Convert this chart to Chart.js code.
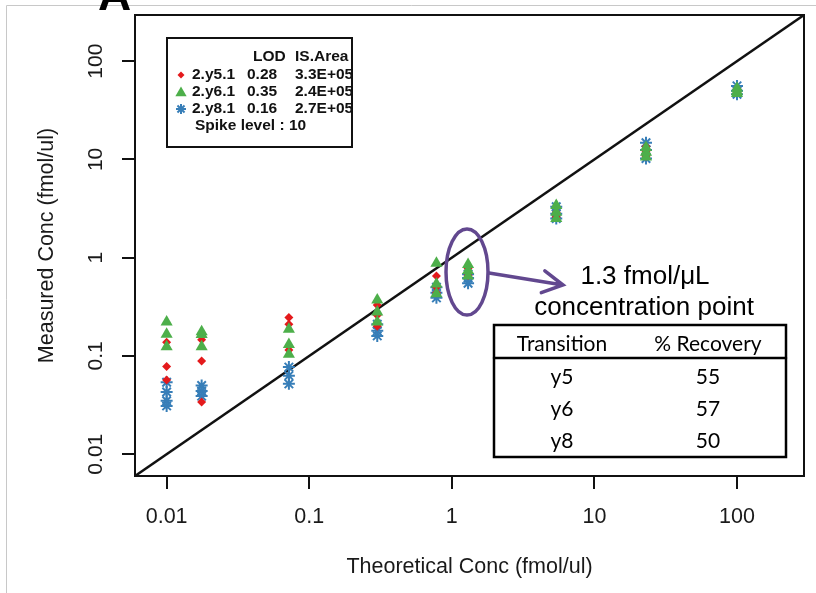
<!DOCTYPE html>
<html>
<head>
<meta charset="utf-8">
<script src="https://cdn.jsdelivr.net/npm/chart.js@4/dist/chart.umd.min.js"></script>
<style>
  html, body { margin: 0; padding: 0; background: #fff; }
  #wrap { position: relative; width: 816px; height: 593px; }
</style>
</head>
<body>
<div id="wrap"><canvas id="recoveryChart" width="816" height="593"></canvas></div>
<script>
// theoretical spike levels (fmol/ul)
const concLevels = [0.01, 0.0176, 0.072, 0.30, 0.78, 1.3, 5.4, 23, 100];

// measured replicates per level, one array per transition
const y5Measured = [
  [0.138, 0.078, 0.057],
  [0.146, 0.089, 0.034],
  [0.246, 0.21, 0.115],
  [0.33, 0.26, 0.2],
  [0.65, 0.5, 0.44],
  [0.78, 0.7, 0.66],
  [3.3, 2.9, 2.6],
  [13.5, 12, 10.8],
  [52, 50, 48]
];
const y6Measured = [
  [0.222, 0.166, 0.124],
  [0.176, 0.165, 0.124],
  [0.187, 0.131, 0.104],
  [0.37, 0.28, 0.221],
  [0.88, 0.54, 0.43],
  [0.85, 0.74, 0.65],
  [3.4, 2.9, 2.5],
  [13.2, 11.8, 10.6],
  [53, 49, 47]
];
const y8Measured = [
  [0.054, 0.043, 0.035, 0.031],
  [0.05, 0.044, 0.039],
  [0.077, 0.063, 0.052],
  [0.21, 0.18, 0.16],
  [0.5, 0.44, 0.39],
  [0.68, 0.62, 0.55],
  [3.3, 2.8, 2.5],
  [14.8, 12.5, 10.2],
  [56, 50, 46]
];

// identity line ends and axis ticks
const identityVals = [0.006, 295];
const tickVals = [0.01, 0.1, 1, 10, 100];
const tickLabels = ['0.01', '0.1', '1', '10', '100'];

// legend + inset table text
const legendNames = ['2.y5.1', '2.y6.1', '2.y8.1'];
const lodValues = ['0.28', '0.35', '0.16'];
const isAreas = ['3.3E+05', '2.4E+05', '2.7E+05'];
const spikeLevel = 10;
const transitions = ['y5', 'y6', 'y8'];
const recoveries = [55, 57, 50];

const RED = '#E41A1C', GREEN = '#4DAF4A', BLUE = '#377EB8', PURPLE = '#62488F';

function toPoints(series) {
  let pts = [];
  series.forEach((reps, i) => {
    reps.forEach(v => pts.push({ x: concLevels[i], y: v }));
  });
  return pts;
}

// small marker helpers for the legend box
function diamond(ctx, x, y, r, color) {
  ctx.fillStyle = color;
  ctx.beginPath();
  ctx.moveTo(x, y - r); ctx.lineTo(x + r, y); ctx.lineTo(x, y + r); ctx.lineTo(x - r, y);
  ctx.closePath(); ctx.fill();
}
function triangle(ctx, x, y, r, color) {
  ctx.fillStyle = color;
  ctx.beginPath();
  ctx.moveTo(x, y - r);
  ctx.lineTo(x + r * 0.866, y + r * 0.5);
  ctx.lineTo(x - r * 0.866, y + r * 0.5);
  ctx.closePath(); ctx.fill();
}
function star(ctx, x, y, r, color) {
  ctx.strokeStyle = color; ctx.lineWidth = 2;
  ctx.beginPath();
  ctx.moveTo(x - r, y); ctx.lineTo(x + r, y);
  ctx.moveTo(x, y - r); ctx.lineTo(x, y + r);
  let d = r * 0.707;
  ctx.moveTo(x - d, y - d); ctx.lineTo(x + d, y + d);
  ctx.moveTo(x - d, y + d); ctx.lineTo(x + d, y - d);
  ctx.stroke();
}

const extras = {
  id: 'extras',
  afterDraw(chart) {
    const ctx = chart.ctx;
    const area = chart.chartArea;
    const yScale = chart.scales.y;
    ctx.save();

    // screenshot frame
    ctx.strokeStyle = '#c8c8c8'; ctx.lineWidth = 1;
    ctx.beginPath();
    ctx.moveTo(6.5, 593); ctx.lineTo(6.5, 5.5); ctx.lineTo(816, 5.5);
    ctx.stroke();

    // panel letter, cut off at the top
    ctx.fillStyle = '#000';
    ctx.font = 'bold 46px "Liberation Sans", Arial, sans-serif';
    ctx.textAlign = 'left'; ctx.textBaseline = 'alphabetic';
    ctx.fillText('A', 98, 10);

    // plot box
    ctx.strokeStyle = '#111'; ctx.lineWidth = 2;
    ctx.strokeRect(area.left, area.top, area.right - area.left, area.bottom - area.top);

    // rotated y tick labels (R style)
    ctx.fillStyle = '#1a1a1a';
    ctx.font = '21px "Liberation Sans", Arial, sans-serif';
    ctx.textAlign = 'center'; ctx.textBaseline = 'middle';
    tickVals.forEach((v, i) => {
      let py = yScale.getPixelForValue(v);
      ctx.save();
      ctx.translate(96, py);
      ctx.rotate(-Math.PI / 2);
      ctx.fillText(tickLabels[i], 0, 0);
      ctx.restore();
    });

    // legend box
    ctx.strokeStyle = '#111'; ctx.lineWidth = 2;
    ctx.strokeRect(167, 38, 185, 109);
    ctx.fillStyle = '#111';
    ctx.font = 'bold 15.5px "Liberation Sans", Arial, sans-serif';
    ctx.textAlign = 'left'; ctx.textBaseline = 'middle';
    ctx.fillText('LOD', 253, 57);
    ctx.fillText('IS.Area', 295, 57);
    const rowY = [75, 92, 109];
    legendNames.forEach((name, i) => {
      ctx.fillStyle = '#111';
      ctx.fillText(name, 192, rowY[i]);
      ctx.fillText(lodValues[i], 247, rowY[i]);
      ctx.fillText(isAreas[i], 295, rowY[i]);
    });
    diamond(ctx, 181, rowY[0], 3.5, RED);
    triangle(ctx, 181, rowY[1] + 1, 6.5, GREEN);
    star(ctx, 181, rowY[2], 5, BLUE);
    ctx.fillStyle = '#111';
    ctx.fillText('Spike level : ' + spikeLevel, 195, 126);

    // highlight ellipse around the 1.3 level + arrow
    ctx.strokeStyle = PURPLE; ctx.lineWidth = 3.5; ctx.lineCap = 'round';
    ctx.beginPath();
    ctx.ellipse(467, 272, 21, 43, 0, 0, Math.PI * 2);
    ctx.stroke();
    let x0 = 489, y0 = 273, x1 = 563, y1 = 285;
    let ang = Math.atan2(y1 - y0, x1 - x0);
    ctx.beginPath();
    ctx.moveTo(x0, y0); ctx.lineTo(x1, y1);
    ctx.moveTo(x1 - 23 * Math.cos(ang - 0.5), y1 - 23 * Math.sin(ang - 0.5));
    ctx.lineTo(x1, y1);
    ctx.lineTo(x1 - 23 * Math.cos(ang + 0.5), y1 - 23 * Math.sin(ang + 0.5));
    ctx.stroke();

    ctx.fillStyle = '#000';
    ctx.font = '26px "Liberation Sans", Arial, sans-serif';
    ctx.textAlign = 'center';
    ctx.fillText('1.3 fmol/\u03BCL', 645, 277);
    ctx.fillText('concentration point', 644, 308);

    // recovery table
    ctx.fillStyle = '#fff';
    ctx.fillRect(494, 325, 292, 132);
    ctx.strokeStyle = '#000'; ctx.lineWidth = 2.5;
    ctx.strokeRect(494, 325, 292, 132);
    ctx.beginPath(); ctx.moveTo(494, 358); ctx.lineTo(786, 358); ctx.stroke();
    ctx.fillStyle = '#000';
    ctx.font = '21px Lato, "Open Sans", sans-serif';
    ctx.fillText('Transition', 562, 344);
    ctx.fillText('% Recovery', 708, 344);
    const tableY = [377, 409, 441];
    transitions.forEach((t, i) => {
      ctx.fillText(t, 562, tableY[i]);
      ctx.fillText(String(recoveries[i]), 708, tableY[i]);
    });

    ctx.restore();
  }
};

const axisFont = { family: '"Liberation Sans", Arial, sans-serif', size: 21.5 };

new Chart(document.getElementById('recoveryChart'), {
  type: 'scatter',
  data: {
    datasets: [
      {
        label: '2.y6.1',
        data: toPoints(y6Measured),
        pointStyle: 'triangle',
        pointRadius: 7,
        backgroundColor: GREEN,
        borderWidth: 0,
        order: 0
      },
      {
        label: '2.y5.1',
        data: toPoints(y5Measured),
        pointStyle: 'rectRot',
        pointRadius: 4.5,
        backgroundColor: RED,
        borderWidth: 0,
        order: 1
      },
      {
        label: '2.y8.1',
        data: toPoints(y8Measured),
        pointStyle: 'star',
        pointRadius: 6,
        borderColor: BLUE,
        borderWidth: 2,
        order: 2
      },
      {
        label: 'identity',
        type: 'line',
        data: identityVals.map(v => ({ x: v, y: v })),
        borderColor: '#111',
        borderWidth: 2.5,
        pointRadius: 0,
        fill: false,
        order: 3
      }
    ]
  },
  options: {
    responsive: false,
    animation: false,
    devicePixelRatio: 1,
    layout: { padding: { top: 15, right: 12, left: 0, bottom: 0 } },
    plugins: { legend: { display: false }, tooltip: { enabled: false } },
    scales: {
      x: {
        type: 'logarithmic',
        min: identityVals[0],
        max: identityVals[1],
        bounds: 'data',
        afterBuildTicks: axis => { axis.ticks = tickVals.map(v => ({ value: v })); },
        afterFit: axis => { axis.height = 593 - 476; },
        border: { display: false },
        grid: { drawOnChartArea: false, drawTicks: true, tickLength: 13, color: '#111', lineWidth: 2 },
        ticks: {
          autoSkip: false, maxRotation: 0, padding: 15,
          color: '#1a1a1a', font: axisFont,
          callback: (v, i) => tickLabels[i]
        },
        title: {
          display: true, text: 'Theoretical Conc (fmol/ul)',
          color: '#1a1a1a', font: axisFont, padding: { top: 0, bottom: 13 }
        }
      },
      y: {
        type: 'logarithmic',
        min: identityVals[0],
        max: identityVals[1],
        bounds: 'data',
        afterBuildTicks: axis => { axis.ticks = tickVals.map(v => ({ value: v })); },
        afterFit: axis => { axis.width = 135; },
        border: { display: false },
        grid: { drawOnChartArea: false, drawTicks: true, tickLength: 13, color: '#111', lineWidth: 2 },
        ticks: { display: false },
        title: {
          display: true, text: 'Measured Conc (fmol/ul)',
          color: '#1a1a1a', font: axisFont, padding: { top: 34, bottom: 0 }
        }
      }
    }
  },
  plugins: [extras]
});
</script>
</body>
</html>
